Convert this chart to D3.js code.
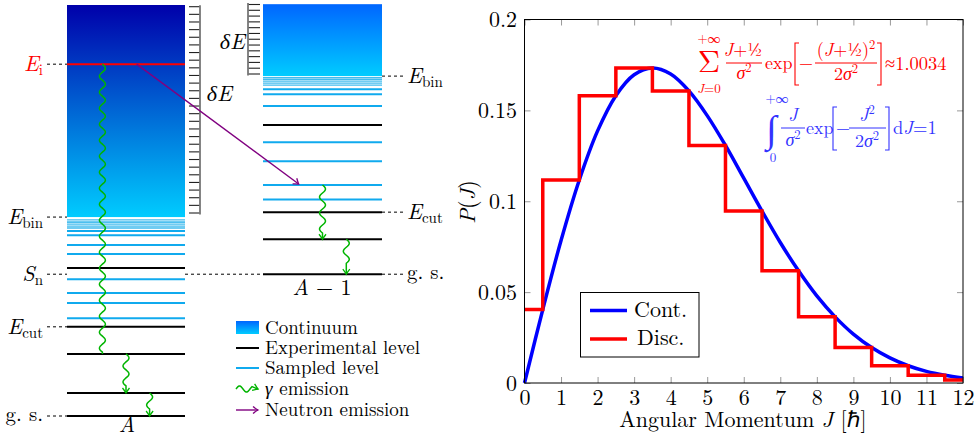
<!DOCTYPE html>
<html>
<head>
<meta charset="utf-8">
<script src="https://cdnjs.cloudflare.com/ajax/libs/d3/7.8.5/d3.min.js"></script>
<style>
body { margin: 0; background: #fff; }
</style>
</head>
<body>
<div id="chart"></div>
<script>
// ---- level scheme (energies in arbitrary units, A-frame) ----
var topA = 10;
var eI = 8.56, eBinA = 4.84, sN = 3.45, eCutA = 2.17;
var expLevelsA = [0, 0.56, 1.51, 2.17, 3.60];
var sampLevelsA = [2.38, 2.75, 2.99, 3.33, 3.94, 4.16, 4.40, 4.50];
var denseLevelsA = [4.57, 4.60, 4.65, 4.70, 4.72, 4.77];

// A-1 energies, relative to its own ground state
var topB = 6.57;
var eBinB = 4.82, eCutB = 1.51;
var expLevelsB = [0, 0.85, 1.51, 3.63];
var sampLevelsB = [1.82, 2.17, 2.75, 3.21, 4.09, 4.38, 4.50];
var denseLevelsB = [4.60, 4.65, 4.70, 4.74, 4.78];

// gamma cascades: [from, to, position across column, arrow]
var gammasA = [[8.56, 1.51, 0.30, false], [1.51, 0.56, 0.50, true], [0.56, 0, 0.70, true]];
var gammasB = [[2.17, 0.85, 0.50, true], [0.85, 0, 0.70, true]];

var legendLabels = ["Continuum", "Experimental level", "Sampled level", "emission", "Neutron emission"];

// ---- spin distribution ----
var jCont = [0, 0.5, 1, 1.5, 2, 2.5, 3, 3.5, 4, 4.5, 5, 5.5, 6, 6.5, 7, 7.5, 8, 8.5, 9, 9.5, 10, 10.5, 11, 11.5, 12];
var pCont = [0, 0.0404, 0.0784, 0.1117, 0.1387, 0.1581, 0.1696, 0.1733, 0.1700, 0.1607, 0.1471, 0.1307,
             0.1127, 0.0946, 0.0773, 0.0617, 0.0479, 0.0364, 0.0269, 0.0195, 0.0138, 0.0095, 0.0064, 0.0043, 0.0028];
var jDisc = [0, 1, 2, 3, 4, 5, 6, 7, 8, 9, 10, 11, 12];
var pDisc = [0.0404, 0.1117, 0.1581, 0.1733, 0.1607, 0.1307, 0.0946, 0.0617, 0.0364, 0.0195, 0.0095, 0.0043, 0.0017];
var xTicks = [0, 1, 2, 3, 4, 5, 6, 7, 8, 9, 10, 11, 12];
var yTicks = [0, 0.05, 0.1, 0.15, 0.2];
var yTickLabels = ["0", "0.05", "0.1", "0.15", "0.2"];

var W = 977, H = 437;
var svg = d3.select("#chart").append("svg").attr("width", W).attr("height", H);
var defs = svg.append("defs");

var cyan = "#10aaee", green = "#00b400", purple = "#800080";

function grad(id, c0, c1) {
  var g = defs.append("linearGradient").attr("id", id)
    .attr("x1", 0).attr("y1", 0).attr("x2", 0).attr("y2", 1);
  g.append("stop").attr("offset", "0%").attr("stop-color", c0);
  g.append("stop").attr("offset", "100%").attr("stop-color", c1);
}
grad("gA", "#0000aa", "#00ccff");
grad("gB", "#0066ff", "#00ccff");

function marker(id, col) {
  defs.append("marker").attr("id", id)
    .attr("viewBox", "-7 -5 9 10").attr("refX", 0).attr("refY", 0)
    .attr("markerUnits", "userSpaceOnUse").attr("markerWidth", 9).attr("markerHeight", 10)
    .attr("orient", "auto")
    .append("path").attr("d", "M-5,-3.5 Q-1.5,-0.8 0,0 Q-1.5,0.8 -5,3.5")
    .attr("fill", "none").attr("stroke", col).attr("stroke-width", 1.3);
}
marker("arG", green);
marker("arP", purple);

var yE = d3.scaleLinear().domain([0, topA]).range([416, 5]);
var xA = d3.scaleLinear().domain([0, 1]).range([67, 185]);
var xB = d3.scaleLinear().domain([0, 1]).range([263, 382]);
function yB(e) { return yE(e + sN); }

var line = d3.line();

function wavyPts(x0, y0, y1, arrow) {
  var amp = 3, lambda = 16, tail = arrow ? 5 : 0;
  var pts = [], end = y1 - tail;
  var n = Math.floor((end - y0) / (lambda / 2)) * (lambda / 2);
  for (var t = 0; t <= n; t += 1) {
    pts.push([x0 + amp * Math.sin(2 * Math.PI * t / lambda), y0 + t]);
  }
  pts.push([x0, y1]);
  return pts;
}
function wavyH(x0, x1, y0) {
  var pts = [], amp = 3, lambda = 14;
  for (var t = 0; t <= 16; t += 1) pts.push([x0 + t, y0 - amp * Math.sin(2 * Math.PI * t / lambda)]);
  pts.push([x1, y0]);
  return pts;
}

var left = svg.append("g");

// continuum boxes
left.append("rect").attr("x", xA(0)).attr("y", yE(topA)).attr("width", xA(1) - xA(0))
  .attr("height", yE(eBinA) - yE(topA)).attr("fill", "url(#gA)");
left.append("rect").attr("x", xB(0)).attr("y", yB(topB)).attr("width", xB(1) - xB(0))
  .attr("height", yB(eBinB) - yB(topB)).attr("fill", "url(#gB)");

// delta E ladders
function ladder(xv, xt, y0, y1, n) {
  var g = left.append("g");
  d3.range(n).forEach(function(i) {
    var yy = y0 + (y1 - y0) * i / (n - 1);
    g.append("line").attr("x1", xv).attr("x2", xt).attr("y1", yy).attr("y2", yy)
      .attr("stroke", "#222").attr("stroke-width", 1.1);
  });
  g.append("line").attr("x1", xv).attr("x2", xv).attr("y1", y0 - 1.5).attr("y2", y1 + 1.5)
    .attr("stroke", "#777").attr("stroke-width", 1.8);
}
ladder(200, 189, 6.7, 213, 28);
ladder(248, 260, 4.5, 74, 13);

function lvl(xs, yv, col, w) {
  left.append("line").attr("x1", xs(0)).attr("x2", xs(1)).attr("y1", yv).attr("y2", yv)
    .attr("stroke", col).attr("stroke-width", w);
}
denseLevelsA.forEach(function(e) { lvl(xA, yE(e), "#40bbee", 1.3); });
sampLevelsA.forEach(function(e) { lvl(xA, yE(e), cyan, 2); });
expLevelsA.forEach(function(e) { lvl(xA, yE(e), "#000", 2); });
denseLevelsB.forEach(function(e) { lvl(xB, yB(e), "#40bbee", 1.3); });
sampLevelsB.forEach(function(e) { lvl(xB, yB(e), cyan, 2); });
expLevelsB.forEach(function(e) { lvl(xB, yB(e), "#000", 2); });
lvl(xA, yE(eI), "#f00", 2);

// dashed guides
function dash(x1, x2, yv) {
  left.append("line").attr("x1", x1).attr("x2", x2).attr("y1", yv).attr("y2", yv)
    .attr("stroke", "#000").attr("stroke-width", 1).attr("stroke-dasharray", "3,3");
}
[eI, eBinA, sN, eCutA, 0].forEach(function(e) { dash(47, xA(0), yE(e)); });
dash(xA(1), xB(0), yE(sN));
[eBinB, eCutB, 0].forEach(function(e) { dash(xB(1), 403, yB(e)); });

// labels
function lab(xp, yp, main, sub, anchor, col) {
  var t = left.append("text").attr("x", xp).attr("y", yp).attr("text-anchor", anchor)
    .attr("font-size", 22).attr("fill", col || "#000");
  t.append("tspan").attr("font-style", "italic").text(main);
  if (sub) t.append("tspan").attr("font-size", 15).attr("dy", 4).text(sub);
  return t;
}
lab(43, yE(eI) + 7, "E", "i", "end", "#f00");
lab(43, yE(eBinA) + 7, "E", "bin", "end");
lab(43, yE(sN) + 7, "S", "n", "end");
lab(43, yE(eCutA) + 7, "E", "cut", "end");
left.append("text").attr("x", 43).attr("y", yE(0) + 5).attr("text-anchor", "end")
  .attr("font-size", 21).text("g. s.");
lab(407, yB(eBinB) + 7, "E", "bin", "start");
lab(407, yB(eCutB) + 7, "E", "cut", "start");
left.append("text").attr("x", 407).attr("y", yB(0) + 5).attr("font-size", 21).text("g. s.");
lab(232, 101, "δE", null, "end");
lab(245, 49, "δE", null, "end");
lab(127, 432, "A", null, "middle");
var tb = left.append("text").attr("x", 322).attr("y", 295).attr("text-anchor", "middle").attr("font-size", 22);
tb.append("tspan").attr("font-style", "italic").text("A");
tb.append("tspan").text(" − 1");

// gamma cascades
gammasA.forEach(function(g) {
  left.append("path").attr("d", line(wavyPts(xA(g[2]), yE(g[0]), yE(g[1]), g[3])))
    .attr("fill", "none").attr("stroke", green).attr("stroke-width", 1.5)
    .attr("marker-end", g[3] ? "url(#arG)" : null);
});
gammasB.forEach(function(g) {
  left.append("path").attr("d", line(wavyPts(xB(g[2]), yB(g[0]), yB(g[1]), g[3])))
    .attr("fill", "none").attr("stroke", green).attr("stroke-width", 1.5)
    .attr("marker-end", "url(#arG)");
});

// neutron emission
left.append("line").attr("x1", xA(0.59)).attr("y1", yE(eI))
  .attr("x2", xB(0.30)).attr("y2", yB(2.17) - 1)
  .attr("stroke", purple).attr("stroke-width", 1.4).attr("marker-end", "url(#arP)");

// legend of the scheme
var lg = left.append("g");
var ly = [327.5, 348, 368, 389, 410];
lg.append("rect").attr("x", 236).attr("y", 321).attr("width", 23).attr("height", 13).attr("fill", "url(#gB)");
lg.append("line").attr("x1", 236).attr("x2", 259).attr("y1", ly[1]).attr("y2", ly[1]).attr("stroke", "#000").attr("stroke-width", 2);
lg.append("line").attr("x1", 236).attr("x2", 259).attr("y1", ly[2]).attr("y2", ly[2]).attr("stroke", cyan).attr("stroke-width", 2);
lg.append("path").attr("d", line(wavyH(236, 258, ly[3]))).attr("fill", "none")
  .attr("stroke", green).attr("stroke-width", 1.5).attr("marker-end", "url(#arG)");
lg.append("line").attr("x1", 236).attr("x2", 258).attr("y1", ly[4]).attr("y2", ly[4])
  .attr("stroke", purple).attr("stroke-width", 1.4).attr("marker-end", "url(#arP)");
legendLabels.forEach(function(s, i) {
  var t = lg.append("text").attr("x", 265).attr("y", ly[i] + 6).attr("font-size", 19);
  if (i === 3) {
    t.append("tspan").attr("font-style", "italic").text("γ ");
  }
  t.append("tspan").text(s);
});

// ---- right chart ----
var x = d3.scaleLinear().domain([0, 12]).range([524.5, 963]);
var y = d3.scaleLinear().domain([0, 0.2]).range([383, 19.5]);
var plot = svg.append("g");

function styleTicks(g) {
  g.select(".domain").remove();
  g.selectAll(".tick line").attr("stroke", "#999").attr("stroke-width", 1);
  g.selectAll("text").attr("font-size", 22).attr("fill", "#000");
}
plot.append("g").attr("transform", "translate(0,383)")
  .call(d3.axisBottom(x).tickValues(xTicks).tickSizeInner(-6).tickSizeOuter(0))
  .call(styleTicks)
  .selectAll("text").attr("dy", null).attr("y", 21.5);
plot.append("g").attr("transform", "translate(0,19.5)")
  .call(d3.axisTop(x).tickValues(xTicks).tickSizeInner(-6).tickSizeOuter(0).tickFormat(""))
  .call(styleTicks);
plot.append("g").attr("transform", "translate(524.5,0)")
  .call(d3.axisLeft(y).tickValues(yTicks).tickSizeInner(-6).tickSizeOuter(0)
    .tickFormat(function(d, i) { return yTickLabels[i]; }))
  .call(styleTicks)
  .selectAll("text").attr("x", -7.5).attr("dy", "0.32em");
plot.append("g").attr("transform", "translate(963,0)")
  .call(d3.axisRight(y).tickValues(yTicks).tickSizeInner(-6).tickSizeOuter(0).tickFormat(""))
  .call(styleTicks);

plot.append("path")
  .attr("d", d3.line().x(function(d, i) { return x(jCont[i]); }).y(function(d) { return y(d); })
    .curve(d3.curveCatmullRom)(pCont))
  .attr("fill", "none").attr("stroke", "#00f").attr("stroke-width", 3.5);

// step edges at J +/- 1/2, clipped to [0, 12]
var stepPts = pDisc.map(function(p, i) { return [Math.max(0, jDisc[i] - 0.5), p]; });
stepPts.push([12, pDisc[pDisc.length - 1]]);
plot.append("path")
  .attr("d", d3.line().x(function(d) { return x(d[0]); }).y(function(d) { return y(d[1]); })
    .curve(d3.curveStepAfter)(stepPts))
  .attr("fill", "none").attr("stroke", "#f00").attr("stroke-width", 3.5);

plot.append("rect").attr("x", 524.5).attr("y", 19.5).attr("width", 438.5).attr("height", 363.5)
  .attr("fill", "none").attr("stroke", "#000").attr("stroke-width", 1);

// axis titles
var xt = plot.append("text").attr("x", 743).attr("y", 426.5).attr("text-anchor", "middle").attr("font-size", 22);
xt.append("tspan").text("Angular Momentum ");
xt.append("tspan").attr("font-style", "italic").text("J");
xt.append("tspan").text(" [ℏ]");
var yt = plot.append("text").attr("transform", "translate(475,202) rotate(-90)")
  .attr("text-anchor", "middle").attr("font-size", 22);
yt.append("tspan").attr("font-style", "italic").text("P");
yt.append("tspan").text("(");
yt.append("tspan").attr("font-style", "italic").text("J");
yt.append("tspan").text(")");

// legend
var lb = plot.append("g");
lb.append("rect").attr("x", 580.5).attr("y", 292.5).attr("width", 118.5).attr("height", 64.5)
  .attr("fill", "#fff").attr("stroke", "#000").attr("stroke-width", 1);
lb.append("line").attr("x1", 590).attr("x2", 627).attr("y1", 310.5).attr("y2", 310.5).attr("stroke", "#00f").attr("stroke-width", 3.5);
lb.append("line").attr("x1", 590).attr("x2", 627).attr("y1", 339).attr("y2", 339).attr("stroke", "#f00").attr("stroke-width", 3.5);
lb.append("text").attr("x", 634).attr("y", 317).attr("font-size", 22).text("Cont.");
lb.append("text").attr("x", 637).attr("y", 345).attr("font-size", 22).text("Disc.");

// formulas
function ft(g, xp, yp, parts, size, anchor) {
  var t = g.append("text").attr("x", xp).attr("y", yp).attr("font-size", size)
    .attr("text-anchor", anchor || "start");
  parts.forEach(function(p) {
    var s = t.append("tspan").text(p[0]);
    if (p[1] === "i") s.attr("font-style", "italic");
    if (p[1] === "sup") s.attr("font-size", size * 0.7).attr("dy", -size * 0.4);
  });
  return t;
}
function bar(g, x1, x2, yv) {
  g.append("line").attr("x1", x1).attr("x2", x2).attr("y1", yv).attr("y2", yv)
    .attr("stroke", g.attr("fill")).attr("stroke-width", 1);
}
function brk(g, xv, y1, y2, dir) {
  g.append("path").attr("d", "M" + (xv + 4 * dir) + "," + y1 + "H" + xv + "V" + y2 + "H" + (xv + 4 * dir))
    .attr("fill", "none").attr("stroke", g.attr("fill")).attr("stroke-width", 1.1);
}

var fr = plot.append("g").attr("fill", "#f00");
ft(fr, 709, 43, [["+∞"]], 13, "middle");
ft(fr, 709, 72, [["Σ"]], 31, "middle");
ft(fr, 709, 93, [["J", "i"], ["=0"]], 13, "middle");
ft(fr, 743, 56, [["J", "i"], ["+½"]], 18, "middle");
bar(fr, 726, 762, 63);
ft(fr, 744, 79, [["σ", "i"], ["2", "sup"]], 18, "middle");
ft(fr, 765, 69, [["exp"]], 18);
brk(fr, 795, 43, 85, 1);
ft(fr, 799, 69, [["−"]], 18);
ft(fr, 846, 56, [["(", ""], ["J", "i"], ["+½)"], ["2", "sup"]], 18, "middle");
bar(fr, 815, 877, 63);
ft(fr, 846, 80, [["2"], ["σ", "i"], ["2", "sup"]], 18, "middle");
brk(fr, 881, 43, 85, -1);
ft(fr, 885, 70, [["≈1.0034"]], 18.5);

var fb = plot.append("g").attr("fill", "#3333ff");
ft(fb, 777, 103, [["+∞"]], 13, "middle");
ft(fb, 766, 142, [["∫"]], 38);
ft(fb, 773, 162, [["0"]], 13, "middle");
ft(fb, 793, 121, [["J", "i"]], 18, "middle");
bar(fb, 781, 805, 128);
ft(fb, 793, 146, [["σ", "i"], ["2", "sup"]], 18, "middle");
ft(fb, 806, 134, [["exp"]], 18);
brk(fb, 833, 107, 150, 1);
ft(fb, 836, 134, [["−"]], 18);
ft(fb, 867, 121, [["J", "i"], ["2", "sup"]], 18, "middle");
bar(fb, 849, 886, 128);
ft(fb, 867, 147, [["2"], ["σ", "i"], ["2", "sup"]], 18, "middle");
brk(fb, 889, 107, 150, -1);
ft(fb, 893, 134, [["d"], ["J", "i"], ["=1"]], 18.5);

// Computer Modern look-alike for every text
svg.selectAll("text").style("font-family", "'Latin Modern Roman'");
</script>
</body>
</html>
